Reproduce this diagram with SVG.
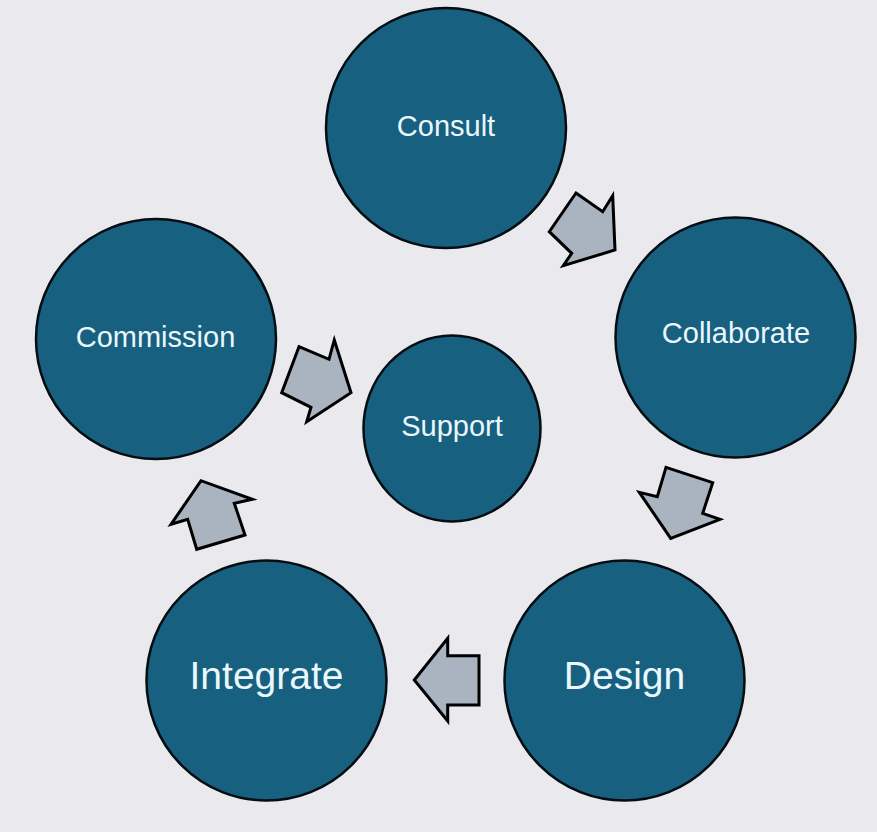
<svg xmlns="http://www.w3.org/2000/svg" width="877" height="832" viewBox="0 0 877 832">
<style>
.node circle, .node ellipse { fill: #17607F; stroke: #050D12; stroke-width: 2.5; }
.lbl { fill: #EAF7FC; font-family: "Liberation Sans", Arial, sans-serif; text-anchor: middle; }
.sm { font-size: 29px; }
.lg { font-size: 39px; }
.arrow { fill: #A9B4C0; stroke: #000000; stroke-width: 3; stroke-linejoin: miter; }
</style>
<rect width="877" height="832" fill="#E9E9EE"/>
<g id="node-consult" class="node">
  <circle cx="446" cy="128" r="120"/>
  <text class="lbl sm" x="446" y="136">Consult</text>
</g>
<g id="node-collaborate" class="node">
  <circle cx="735.5" cy="337.5" r="120"/>
  <text class="lbl sm" x="736" y="343">Collaborate</text>
</g>
<g id="node-design" class="node">
  <circle cx="624.5" cy="680.5" r="120"/>
  <text class="lbl lg" x="624.5" y="689">Design</text>
</g>
<g id="node-integrate" class="node">
  <circle cx="266.5" cy="680.5" r="120"/>
  <text class="lbl lg" x="266.5" y="689">Integrate</text>
</g>
<g id="node-commission" class="node">
  <circle cx="156" cy="339" r="120"/>
  <text class="lbl sm" x="155.5" y="347">Commission</text>
</g>
<g id="node-support" class="node">
  <ellipse cx="452" cy="428.5" rx="88.5" ry="93"/>
  <text class="lbl sm" x="452" y="436">Support</text>
</g>
<g id="connectors">
  <polygon class="arrow" points="576,193 602.7,211.7 612.7,195.7 615,250 563.3,265.7 571.7,253.3 549.3,231.7"/>
  <polygon class="arrow" points="666,467.3 712.7,482.7 702.7,513.3 720,519.3 670.7,538.3 639.3,492.3 657.3,496.7"/>
  <polygon class="arrow" points="479,655.7 447.7,655.7 447.7,638.3 414.3,680 447.7,721 447.7,705 479,705"/>
  <polygon class="arrow" points="245,535 196.7,549.3 187.7,519.3 171,524.3 201,480.7 252.3,499.3 234.3,503.3"/>
  <polygon class="arrow" points="299,346.7 329,359.3 334.3,340 351,392.7 306.7,421.7 311,407.3 281.7,392.7"/>
</g>
</svg>
